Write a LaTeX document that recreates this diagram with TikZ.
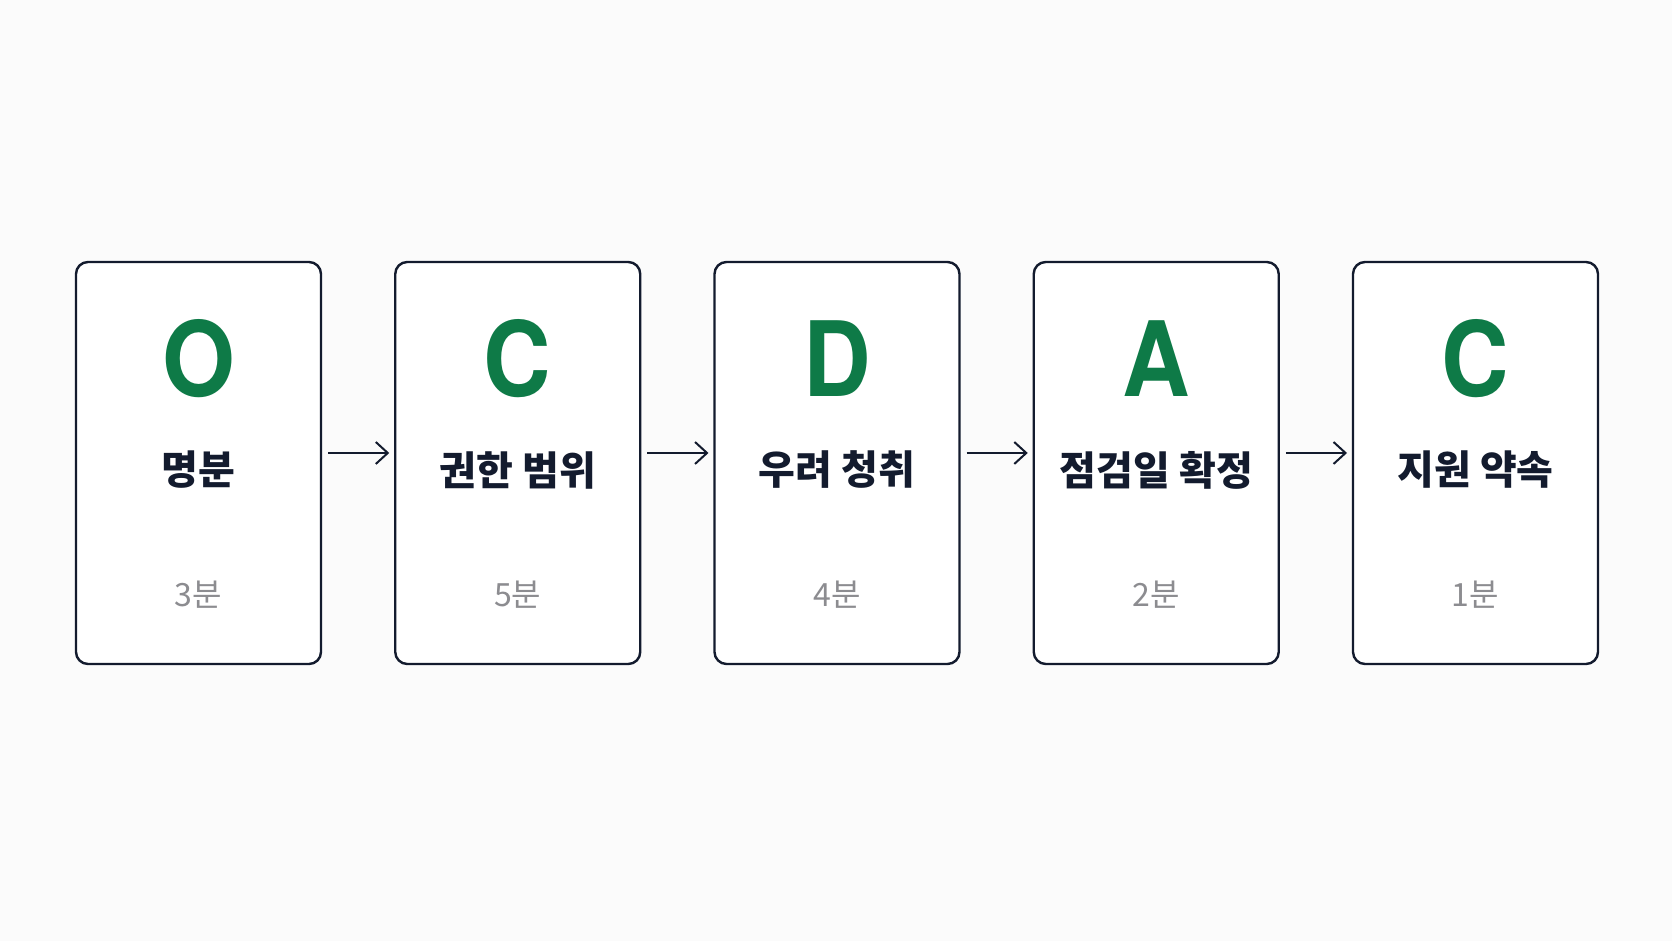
\documentclass[tikz,border=0pt]{standalone}
\usepackage{fontspec}
\setmainfont{Noto Sans CJK KR}
\newfontfamily\letterfont[FakeStretch=0.9]{TeX Gyre Heros}
\usepackage{tikz}
\usetikzlibrary{arrows.meta,positioning,calc}

\definecolor{bgcol}{HTML}{FBFBFB}
\definecolor{navy}{HTML}{131B2E}
\definecolor{ocdagreen}{HTML}{0E7A47}
\definecolor{timegray}{HTML}{8C8C90}

\begin{document}
\begin{tikzpicture}[
        x=1pt, y=1pt,
        node distance=74.25pt,
        card/.style={draw=navy, line width=2.4pt, fill=white, rounded corners=12pt,
            minimum width=245pt, minimum height=402pt, inner sep=0pt, outer sep=0pt},
        letter/.style={color=ocdagreen, font=\letterfont\fontsize{104}{104}\selectfont\bfseries},
        title/.style={color=navy, font=\fontsize{40}{40}\selectfont\bfseries},
        time/.style={color=timegray, font=\fontsize{32}{32}\selectfont},
        flow/.style={draw=navy, line width=2pt, -{Straight Barb[length=12pt,width=22pt]}},
    ]
    % background
    \fill[bgcol] (0,0) rectangle (1672,941);
    \useasboundingbox (0,0) rectangle (1672,941);
    % cards
    \node[card] (O) at (198.5,478) {};
    \node[card, right=of O] (C1) {};
    \node[card, right=of C1] (D) {};
    \node[card, right=of D] (A) {};
    \node[card, right=of A] (C2) {};
    % letters
    \node[letter] (O_l) at ($(O)+(0,104)$) {O};
    \node[letter] (C1_l) at ($(C1)+(0,104)$) {C};
    \node[letter] (D_l) at ($(D)+(0,104)$) {D};
    \node[letter] (A_l) at ($(A)+(0,104)$) {A};
    \node[letter] (C2_l) at ($(C2)+(0,104)$) {C};
    % titles
    \node[title] (O_t) at ($(O)+(0,-7)$) {명분};
    \node[title] (C1_t) at ($(C1)+(0,-7)$) {권한 범위};
    \node[title] (D_t) at ($(D)+(0,-7)$) {우려 청취};
    \node[title] (A_t) at ($(A)+(0,-7)$) {점검일 확정};
    \node[title] (C2_t) at ($(C2)+(0,-7)$) {지원 약속};
    % minutes
    \node[time] (O_m) at ($(O)+(0,-132)$) {3분};
    \node[time] (C1_m) at ($(C1)+(0,-132)$) {5분};
    \node[time] (D_m) at ($(D)+(0,-132)$) {4분};
    \node[time] (A_m) at ($(A)+(0,-132)$) {2분};
    \node[time] (C2_m) at ($(C2)+(0,-132)$) {1분};
    % arrows
    \draw[flow] ([xshift=7pt,yshift=10pt]O.east) -- ([xshift=-6pt,yshift=10pt]C1.west);
    \draw[flow] ([xshift=7pt,yshift=10pt]C1.east) -- ([xshift=-6pt,yshift=10pt]D.west);
    \draw[flow] ([xshift=7pt,yshift=10pt]D.east) -- ([xshift=-6pt,yshift=10pt]A.west);
    \draw[flow] ([xshift=7pt,yshift=10pt]A.east) -- ([xshift=-6pt,yshift=10pt]C2.west);
\end{tikzpicture}
\end{document}
